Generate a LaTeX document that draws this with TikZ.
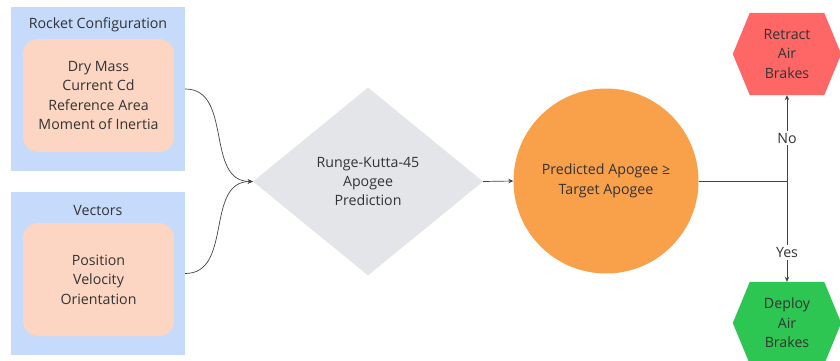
\documentclass[tikz,border=0pt]{standalone}
\usepackage{fontspec}
\setmainfont{Open Sans}
\usetikzlibrary{shapes.geometric,arrows.meta,calc}
\pgfdeclarelayer{background}
\pgfsetlayers{background,main}
\definecolor{outerblue}{HTML}{C6DAFC}
\definecolor{innerpeach}{HTML}{FCD6C2}
\definecolor{diagray}{HTML}{E3E5E8}
\definecolor{circorange}{HTML}{F9A04A}
\definecolor{hexred}{HTML}{FF6666}
\definecolor{hexgreen}{HTML}{2DC653}
\definecolor{txt}{HTML}{333333}
\definecolor{linec}{HTML}{444444}
\tikzset{
  every node/.style={text=txt, font=\fontsize{14.2}{19.4}\selectfont, align=center},
  outerbox/.style={rectangle, fill=outerblue, minimum width=174pt, inner sep=0pt},
  innerbox/.style={rectangle, rounded corners=15pt, fill=innerpeach, minimum width=151pt, minimum height=113pt, inner sep=0pt},
  decision/.style={diamond, fill=diagray, minimum width=230pt, minimum height=188pt, inner sep=0pt},
  testcirc/.style={circle, fill=circorange, minimum size=185pt, inner sep=0pt},
  hexbox/.style={rectangle, minimum width=74pt, minimum height=82pt, inner sep=0pt},
  conn/.style={draw=linec, line width=0.7pt},
  arr/.style={conn, -{Stealth[length=5pt,width=4.5pt]}},
  edgelabel/.style={fill=white, inner sep=2pt}
}
\newcommand{\hexfill}[2]{%
  \begin{pgfonlayer}{background}
  \fill[#2] (#1.north west) -- (#1.north east) -- ($(#1.east)+(17,0)$) -- (#1.south east) -- (#1.south west) -- ($(#1.west)+(-17,0)$) -- cycle;
  \end{pgfonlayer}}
\begin{document}
\begin{tikzpicture}[x=1pt,y=-1pt]
\useasboundingbox (0,0) rectangle (840,361);
% group 1
\node[outerbox, minimum height=164pt] (cfg) at (98,89) {};
\node (cfgtitle) at (98,25) {Rocket Configuration};
\node[innerbox] (cfgin) at (98.5,95.5) {Dry Mass\\Current Cd\\Reference Area\\Moment of Inertia};
% group 2
\node[outerbox, minimum height=163pt] (vec) at (98,273.5) {};
\node (vectitle) at (98,210) {Vectors};
\node[innerbox] (vecin) at (98.5,279.5) {Position\\Velocity\\Orientation};
% diamond
\node[decision] (rk) at (368,181.5) {Runge-Kutta-45\\Apogee\\Prediction};
% circle
\node[testcirc] (test) at (606,181) {Predicted Apogee ≥\\Target Apogee};
% hexagons
\node[hexbox] (retract) at (787,54) {Retract\\Air\\Brakes};
\hexfill{retract}{hexred}
\node[hexbox] (deploy) at (787,323) {Deploy\\Air\\Brakes};
\hexfill{deploy}{hexgreen}
\coordinate (j) at (787,181);
% connectors
\draw[arr] (cfg.east) .. controls +(48,0) and +(-48,0) .. (rk.west);
\draw[arr] (vec.east) .. controls +(48,0) and +(-48,0) .. (rk.west);
\draw[arr] (rk.east) -- (test.west);
\draw[conn] (test.east) -- (j);
\draw[arr] (j) -- node[edgelabel, pos=0.5] {No} (retract.south);
\draw[arr] (j) -- node[edgelabel, pos=0.71] {Yes} (deploy.north);
\end{tikzpicture}
\end{document}
